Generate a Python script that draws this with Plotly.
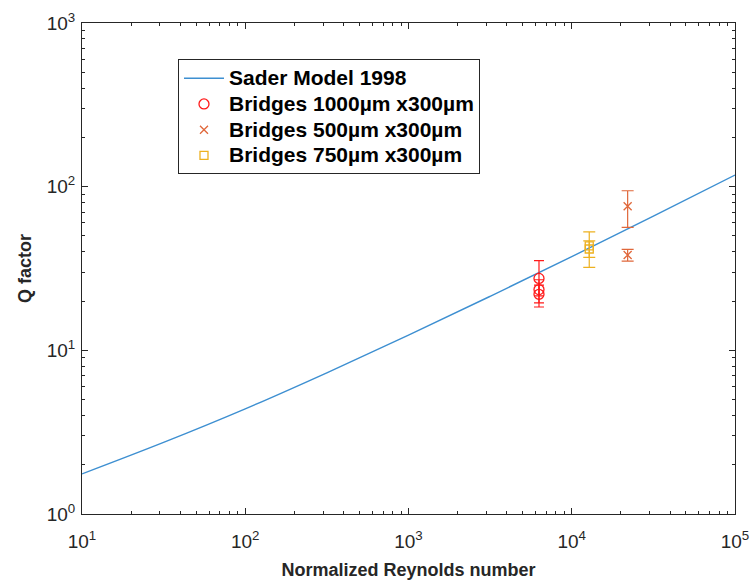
import plotly.graph_objects as go

# Sader (1998) model curve, sampled values
model_re = [10, 31.6, 100, 316, 1000, 3162, 10000, 31623, 100000]
model_q = [1.758, 2.738, 4.39, 7.29, 12.37, 21.38, 37.36, 66.07, 117.8]

# Measured bridges
b1000_re = [6300, 6300, 6300]
b1000_q = [27.5, 23.5, 22.0]
b1000_up = [7.8, 3.5, 3.0]
b1000_dn = [6.0, 4.0, 3.6]

b500_re = [22000, 22000]
b500_q = [76.0, 38.2]
b500_up = [18.4, 3.2]
b500_dn = [19.6, 3.1]

b750_re = [12800, 12800]
b750_q = [43.5, 41.6]
b750_up = [9.5, 5.1]
b750_dn = [6.5, 9.5]

x_ticks = [10, 100, 1000, 10000, 100000]
x_labels = ["10<sup>1</sup>", "10<sup>2</sup>", "10<sup>3</sup>", "10<sup>4</sup>", "10<sup>5</sup>"]
y_ticks = [1, 10, 100, 1000]
y_labels = ["10<sup>0</sup>", "10<sup>1</sup>", "10<sup>2</sup>", "10<sup>3</sup>"]

BLUE = "#3d8fd1"
RED = "#ff1a1a"
ORANGE = "#e0673a"
YELLOW = "#edb120"
AXIS = "#262626"
FONT = "Liberation Sans, Arial, sans-serif"


def legend_name(text):
    # legend rows stay compact while the label itself renders larger
    return '<span style="font-size:21px">' + text + "</span>"


fig = go.Figure()

fig.add_trace(go.Scatter(
    x=model_re, y=model_q, mode="lines", name=legend_name("Sader Model 1998"),
    line=dict(color=BLUE, width=1.4, shape="spline", smoothing=1.0),
))


def add_bridges(xs, ys, up, dn, name, color, symbol, size, capw):
    fig.add_trace(go.Scatter(
        x=xs, y=ys, mode="markers", name=legend_name(name),
        marker=dict(symbol=symbol, size=size, color=color,
                    line=dict(color=color, width=1.3)),
        error_y=dict(type="data", symmetric=False, array=up, arrayminus=dn,
                     color=color, thickness=1.2, width=capw),
    ))


add_bridges(b1000_re, b1000_q, b1000_up, b1000_dn,
            "Bridges 1000µm x300µm", RED, "circle-open", 10, 5)
add_bridges(b500_re, b500_q, b500_up, b500_dn,
            "Bridges 500µm x300µm", ORANGE, "x-thin-open", 8, 6)
add_bridges(b750_re, b750_q, b750_up, b750_dn,
            "Bridges 750µm x300µm", YELLOW, "square-open", 8, 6)

minor_x = [m * 10 ** k for k in range(1, 5) for m in range(2, 10)]
minor_y = [m * 10 ** k for k in range(0, 3) for m in range(2, 10)]

axis_common = dict(
    type="log", showgrid=False, zeroline=False, automargin=False,
    showline=True, linecolor=AXIS, linewidth=1, mirror="ticks",
    ticks="inside", ticklen=6, tickcolor=AXIS, tickwidth=1,
    tickfont=dict(family=FONT, size=19, color=AXIS),
    title_font=dict(family=FONT, size=18, color=AXIS),
)

fig.update_xaxes(
    **axis_common,
    range=[1, 5], tickvals=x_ticks, ticktext=x_labels,
    ticklabelstandoff=10,
    minor=dict(ticks="inside", ticklen=3, tickcolor=AXIS, tickvals=minor_x),
    title_text="<b>Normalized Reynolds number</b>", title_standoff=12,
)
fig.update_yaxes(
    **axis_common,
    range=[0, 3], tickvals=y_ticks, ticktext=y_labels,
    ticklabelstandoff=2,
    minor=dict(ticks="inside", ticklen=3, tickcolor=AXIS, tickvals=minor_y),
    title_text="<b>Q factor</b>", title_standoff=10,
)

fig.update_layout(
    width=753, height=584,
    margin=dict(l=82, r=18, t=23, b=70),
    paper_bgcolor="white", plot_bgcolor="white",
    font=dict(family=FONT, color=AXIS),
    legend=dict(
        x=0.147, y=0.926, xanchor="left", yanchor="top",
        bgcolor="white", bordercolor=AXIS, borderwidth=1,
        font=dict(family=FONT, size=17.5, color="black", weight="bold"),
        tracegroupgap=0, itemwidth=40,
    ),
)

fig.write_html("out.html")
